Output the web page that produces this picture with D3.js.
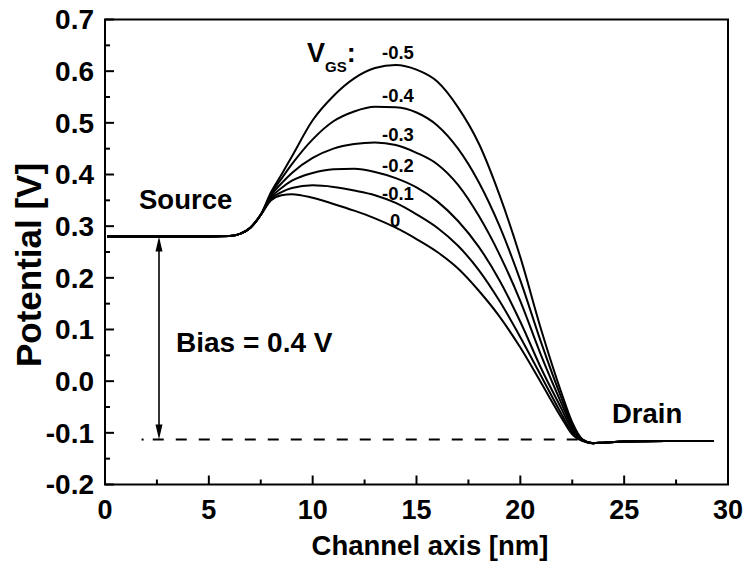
<!DOCTYPE html>
<html>
<head>
<meta charset="utf-8">
<script src="https://cdn.jsdelivr.net/npm/d3@7/dist/d3.min.js"></script>
<style>
  html, body { margin: 0; padding: 0; background: #fff; }
  svg { display: block; font-family: "Liberation Sans", Arial, sans-serif; font-weight: bold; }
</style>
</head>
<body>
<svg id="chart" width="744" height="565"></svg>
<script>
// ---- data ----
const gridX = [0.1, 2, 4, 6, 6.5, 7, 7.5, 8, 8.5, 9, 10, 11, 12, 13, 14, 15, 16, 17, 18, 19, 20, 21, 22, 22.5, 23, 23.5, 24, 25, 27, 29.3];
const head = [0.28, 0.28, 0.28, 0.281, 0.285, 0.297, 0.322];
const tail = [-0.12, -0.119, -0.117, -0.116, -0.116];
const v0   = [0.350, 0.360, 0.362, 0.355, 0.343, 0.330, 0.315, 0.297, 0.275, 0.250, 0.218, 0.175, 0.125, 0.065, -0.003, -0.072, -0.103, -0.116];
const vm01 = [0.353, 0.366, 0.374, 0.379, 0.376, 0.369, 0.360, 0.345, 0.323, 0.297, 0.262, 0.215, 0.155, 0.085, 0.010, -0.065, -0.100, -0.115];
const vm02 = [0.356, 0.374, 0.388, 0.403, 0.410, 0.411, 0.405, 0.393, 0.375, 0.348, 0.310, 0.260, 0.195, 0.115, 0.025, -0.055, -0.095, -0.115];
const vm03 = [0.360, 0.383, 0.403, 0.432, 0.450, 0.459, 0.462, 0.457, 0.442, 0.420, 0.380, 0.320, 0.245, 0.155, 0.050, -0.045, -0.090, -0.114];
const vm04 = [0.363, 0.392, 0.420, 0.468, 0.503, 0.522, 0.531, 0.530, 0.520, 0.495, 0.450, 0.385, 0.300, 0.195, 0.075, -0.035, -0.085, -0.113];
const vm05 = [0.366, 0.400, 0.435, 0.505, 0.552, 0.586, 0.606, 0.612, 0.603, 0.580, 0.530, 0.460, 0.360, 0.240, 0.100, -0.025, -0.080, -0.113];
const seriesNames = ["0", "-0.1", "-0.2", "-0.3", "-0.4", "-0.5"];
const seriesMid = [v0, vm01, vm02, vm03, vm04, vm05];
const xTicks = [0, 5, 10, 15, 20, 25, 30];
const yTicks = [-0.2, -0.1, 0.0, 0.1, 0.2, 0.3, 0.4, 0.5, 0.6, 0.7];
const sourceLevel = 0.28;
const drainLevel = -0.113;
const arrowX = 2.6;

// ---- layout ----
const svg = d3.select("#chart");
const L = 105, R = 728, T = 19.5, B = 484.5;
const x = d3.scaleLinear().domain([0, 30]).range([L, R]);
const y = d3.scaleLinear().domain([-0.2, 0.7]).range([B, T]);

// curves
const line = d3.line().x(d => x(d[0])).y(d => y(d[1])).curve(d3.curveMonotoneX);
seriesMid.forEach(mid => {
  const vals = head.concat(mid, tail);
  const pts = gridX.map((gx, i) => [gx, vals[i]]);
  svg.append("path").attr("d", line(pts)).attr("fill", "none")
     .attr("stroke", "#000").attr("stroke-width", 2);
});

// dashed drain level line (leading dot, then dashes)
svg.append("line").attr("x1", x(1.76)).attr("x2", x(1.86))
  .attr("y1", y(drainLevel)).attr("y2", y(drainLevel))
  .attr("stroke", "#000").attr("stroke-width", 2);
svg.append("line").attr("x1", x(2.3)).attr("x2", x(22.9))
  .attr("y1", y(drainLevel)).attr("y2", y(drainLevel))
  .attr("stroke", "#000").attr("stroke-width", 2)
  .attr("stroke-dasharray", "11 12");
// arrow
const ax = x(arrowX), ay1 = y(sourceLevel), ay2 = y(drainLevel);
svg.append("line").attr("x1", ax).attr("x2", ax).attr("y1", ay1 + 10).attr("y2", ay2 - 10)
  .attr("stroke", "#000").attr("stroke-width", 1.6);
svg.append("path").attr("d", `M${ax},${ay1} L${ax-3.5},${ay1+15} L${ax+3.5},${ay1+15} Z`).attr("fill", "#000");
svg.append("path").attr("d", `M${ax},${ay2} L${ax-3.5},${ay2-15} L${ax+3.5},${ay2-15} Z`).attr("fill", "#000");

// axes
const xMinor = d3.range(2.5, 30, 5);
const yMinor = d3.range(-0.15, 0.7, 0.1);
const g = svg.append("g");
g.append("rect").attr("x", L).attr("y", T).attr("width", R - L).attr("height", B - T)
  .attr("fill", "none").attr("stroke", "#000").attr("stroke-width", 2);
xTicks.forEach(t => g.append("line").attr("x1", x(t)).attr("x2", x(t)).attr("y1", B).attr("y2", B - 9).attr("stroke", "#000").attr("stroke-width", 2));
xMinor.forEach(t => g.append("line").attr("x1", x(t)).attr("x2", x(t)).attr("y1", B).attr("y2", B - 5).attr("stroke", "#000").attr("stroke-width", 2));
yTicks.forEach(t => g.append("line").attr("x1", L).attr("x2", L + 9).attr("y1", y(t)).attr("y2", y(t)).attr("stroke", "#000").attr("stroke-width", 2));
yMinor.forEach(t => g.append("line").attr("x1", L).attr("x2", L + 5).attr("y1", y(t)).attr("y2", y(t)).attr("stroke", "#000").attr("stroke-width", 2));

// tick labels
xTicks.forEach(t => svg.append("text").attr("x", x(t)).attr("y", 519).attr("text-anchor", "middle")
  .attr("font-size", 27).text(d3.format("d")(t)));
yTicks.forEach(t => svg.append("text").attr("x", 94).attr("y", y(t)).attr("dy", "0.35em").attr("text-anchor", "end")
  .attr("font-size", 28).text(d3.format(".1f")(t).replace("−", "-")));

// axis titles
svg.append("text").attr("x", 430).attr("y", 555).attr("text-anchor", "middle").attr("font-size", 27.5).text("Channel axis [nm]");
svg.append("text").attr("transform", "translate(41,265) rotate(-90)").attr("text-anchor", "middle").attr("font-size", 35).text("Potential [V]");

// annotations
svg.append("text").attr("x", 139).attr("y", 209).attr("font-size", 27.5).text("Source");
svg.append("text").attr("x", 176).attr("y", 352).attr("font-size", 28).text("Bias = 0.4 V");
svg.append("text").attr("x", 612).attr("y", 423).attr("font-size", 27.5).text("Drain");
const vgs = svg.append("text").attr("x", 307).attr("y", 62).attr("font-size", 27);
vgs.append("tspan").text("V");
vgs.append("tspan").attr("font-size", 15).attr("dy", 10).text("GS");
vgs.append("tspan").attr("dy", -10).text(":");
const labelPos = [[390, 227], [382, 200], [382, 172], [382, 141], [382, 102], [382, 59]];
seriesNames.forEach((n, i) => svg.append("text").attr("x", labelPos[i][0]).attr("y", labelPos[i][1])
  .attr("font-size", 18.5).text(n));
</script>
</body>
</html>
